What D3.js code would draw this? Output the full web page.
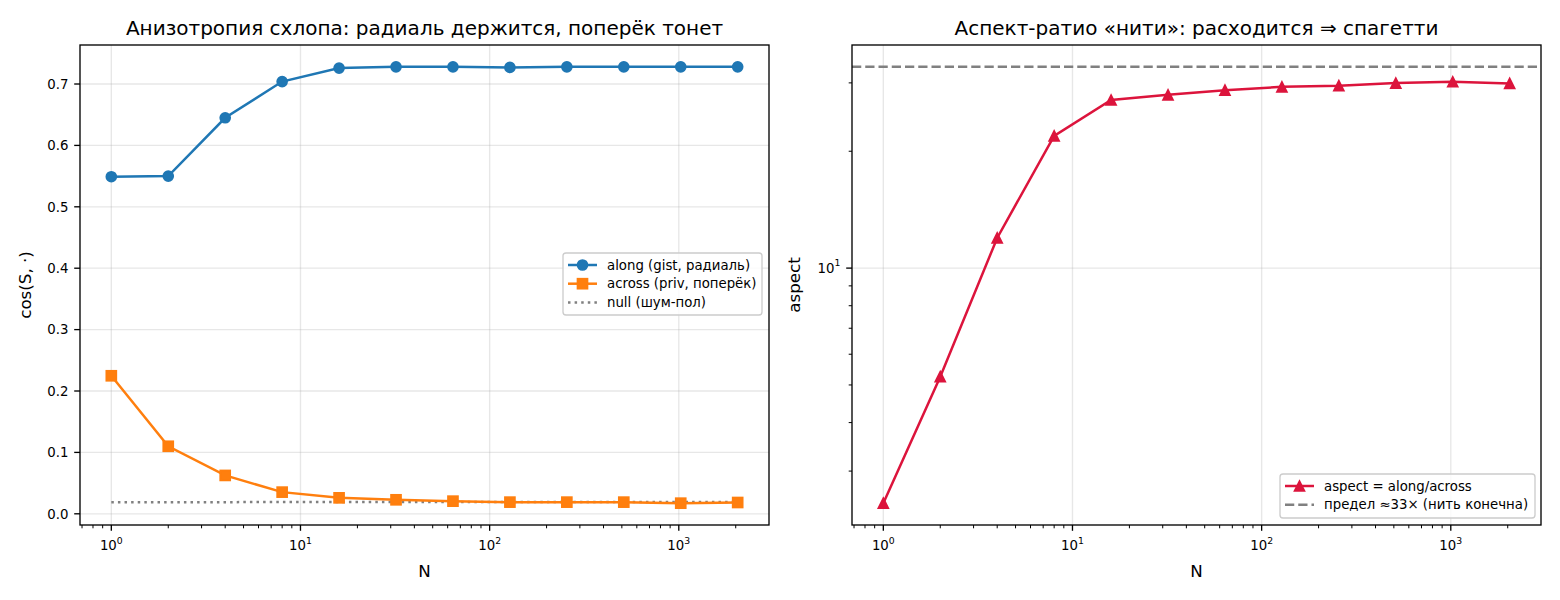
<!DOCTYPE html>
<html>
<head>
<meta charset="utf-8">
<script src="https://cdn.jsdelivr.net/npm/d3@7"></script>
<style>
  body { margin: 0; background: #fff; }
  svg { font-family: "DejaVu Sans", sans-serif; }
</style>
</head>
<body>
<script>
// data
var N = [1, 2, 4, 8, 16, 32, 64, 128, 256, 512, 1024, 2048];
var along = [0.549, 0.550, 0.645, 0.704, 0.726, 0.728, 0.728, 0.727, 0.728, 0.728, 0.728, 0.728];
var across = [0.2248, 0.110, 0.0625, 0.0353, 0.026, 0.0228, 0.0206, 0.019, 0.019, 0.019, 0.0173, 0.0184];
var nullLevel = [0.0190, 0.0190, 0.0190, 0.0191, 0.0191, 0.0191, 0.0192, 0.0192, 0.0192, 0.0192, 0.0193, 0.0193];
var aspect = [2.48, 5.25, 11.96, 21.9, 27.1, 27.95, 28.73, 29.3, 29.5, 29.96, 30.2, 29.9];
var aspectLimit = 33;
var leftTicks = [0.0, 0.1, 0.2, 0.3, 0.4, 0.5, 0.6, 0.7];
var xMajors = [1, 10, 100, 1000];

var W = 1560, H = 600;
var svg = d3.select("body").append("svg")
    .attr("width", W)
    .attr("height", H)

// figure was 120 dpi: 1pt = 1.667px
var GRID = "#b0b0b0", lw = 2.5, SP = 1.33;
var TICK = 13.3, LAB = 16.7, TITLE = 20, LEG = 13.3;
var DOT = "2.5,4.1", DASH = "9.25,4";

// log domain with matplotlib-like 5% margins
function logPad(lo, hi) {
    var a = Math.log10(lo), b = Math.log10(hi), m = (b - a) * 0.05;
    return [Math.pow(10, a - m), Math.pow(10, b + m)];
}
function linPad(lo, hi) {
    var m = (hi - lo) * 0.05;
    return [lo - m, hi + m];
}

function sup(sel, exp) {
    sel.append("tspan").text("10");
    sel.append("tspan").attr("dy", -6.5).attr("font-size", 9.3).text(exp);
}

function minorTicks(domain) {
    var out = [];
    for (var e = -2; e < 5; e++) {
        for (var k = 2; k < 10; k++) {
            var v = k * Math.pow(10, e);
            if (v >= domain[0] && v <= domain[1]) out.push(v);
        }
    }
    return out;
}

function panel(x0, x1, y0, y1) {
    var g = svg.append("g");
    var x = d3.scaleLog().domain(logPad(N[0], N[N.length - 1])).range([x0, x1]);
    return { g: g, x: x, x0: x0, x1: x1, y0: y0, y1: y1 };
}

function drawXAxis(p) {
    var g = p.g, x = p.x;
    xMajors.forEach(function (v) {
        g.append("line").attr("x1", x(v)).attr("x2", x(v)).attr("y1", p.y0).attr("y2", p.y1)
            .attr("stroke", GRID).attr("stroke-opacity", 0.3).attr("stroke-width", SP);
    });
    var ax = g.append("g").attr("transform", "translate(0," + p.y1 + ")");
    xMajors.forEach(function (v, i) {
        ax.append("line").attr("x1", x(v)).attr("x2", x(v)).attr("y1", 0).attr("y2", 5.8)
            .attr("stroke", "#000").attr("stroke-width", SP);
        var t = ax.append("text").attr("x", x(v)).attr("y", 25)
            .attr("text-anchor", "middle").attr("font-size", TICK);
        sup(t, String(i));
    });
    minorTicks(x.domain()).forEach(function (v) {
        ax.append("line").attr("x1", x(v)).attr("x2", x(v)).attr("y1", 0).attr("y2", 3.3)
            .attr("stroke", "#000").attr("stroke-width", 1);
    });
    g.append("text").attr("x", (p.x0 + p.x1) / 2).attr("y", 577)
        .attr("text-anchor", "middle").attr("font-size", LAB).text("N");
}

function frame(p, title) {
    p.g.append("rect").attr("x", p.x0).attr("y", p.y0)
        .attr("width", p.x1 - p.x0).attr("height", p.y1 - p.y0)
        .attr("fill", "none").attr("stroke", "#000").attr("stroke-width", SP);
    p.g.append("text").attr("x", (p.x0 + p.x1) / 2).attr("y", 35)
        .attr("text-anchor", "middle").attr("font-size", TITLE).text(title);
}

function marker(g, type, cx, cy, color) {
    var s = 10, h = s / 2;
    if (type === "o") {
        g.append("circle").attr("cx", cx).attr("cy", cy).attr("r", h)
            .attr("fill", color).attr("stroke", color).attr("stroke-width", 1.67);
    } else if (type === "s") {
        g.append("rect").attr("x", cx - h).attr("y", cy - h)
            .attr("width", s).attr("height", s)
            .attr("fill", color).attr("stroke", color).attr("stroke-width", 1.67);
    } else {
        g.append("path").attr("d", "M" + cx + "," + (cy - h) + "L" + (cx - h) + "," + (cy + h) + "L" + (cx + h) + "," + (cy + h) + "Z")
            .attr("fill", color).attr("stroke", color).attr("stroke-width", 1.67);
    }
}

function series(p, y, vals, color, type, dash) {
    var line = d3.line().x(function (d, i) { return p.x(N[i]); }).y(function (d) { return y(d); });
    p.g.append("path").datum(vals).attr("d", line)
        .attr("fill", "none").attr("stroke", color).attr("stroke-width", lw)
        .attr("stroke-dasharray", dash || null);
    if (type) vals.forEach(function (d, i) { marker(p.g, type, p.x(N[i]), y(d), color); });
}

function legend(g, x, y, w, h, rows) {
    g.append("rect").attr("x", x).attr("y", y).attr("width", w).attr("height", h)
        .attr("rx", 3).attr("fill", "#fff").attr("fill-opacity", 0.8)
        .attr("stroke", "#cccccc").attr("stroke-width", SP);
    rows.forEach(function (r, i) {
        var cy = y + 12 + i * 18.7;
        g.append("line").attr("x1", x + 5).attr("x2", x + 34).attr("y1", cy).attr("y2", cy)
            .attr("stroke", r.color).attr("stroke-width", lw).attr("stroke-dasharray", r.dash || null);
        if (r.type) marker(g, r.type, x + 19.5, cy, r.color);
        g.append("text").attr("x", x + 44).attr("y", cy + 4.7).attr("font-size", LEG).text(r.label);
    });
}

// ---- left panel
var L = panel(80, 769, 45, 525);
var yL = d3.scaleLinear()
    .domain(linPad(d3.min(across.concat(nullLevel)), d3.max(along)))
    .range([L.y1, L.y0]);
leftTicks.forEach(function (v) {
    L.g.append("line").attr("x1", L.x0).attr("x2", L.x1).attr("y1", yL(v)).attr("y2", yL(v))
        .attr("stroke", GRID).attr("stroke-opacity", 0.3).attr("stroke-width", SP);
    L.g.append("line").attr("x1", L.x0 - 5.8).attr("x2", L.x0).attr("y1", yL(v)).attr("y2", yL(v))
        .attr("stroke", "#000").attr("stroke-width", SP);
    L.g.append("text").attr("x", L.x0 - 11.6).attr("y", yL(v) + 4.8).attr("text-anchor", "end")
        .attr("font-size", TICK).text(v.toFixed(1));
});
drawXAxis(L);
L.g.append("text").attr("transform", "translate(31," + ((L.y0 + L.y1) / 2) + ") rotate(-90)")
    .attr("text-anchor", "middle").attr("font-size", LAB).text("cos(S, ·)");
series(L, yL, nullLevel, "gray", null, DOT);
series(L, yL, along, "#1f77b4", "o");
series(L, yL, across, "#ff7f0e", "s");
frame(L, "Анизотропия схлопа: радиаль держится, поперёк тонет");
legend(L.g, 563, 253, 199, 62, [
    { label: "along (gist, радиаль)", color: "#1f77b4", type: "o" },
    { label: "across (priv, поперёк)", color: "#ff7f0e", type: "s" },
    { label: "null (шум-пол)", color: "gray", dash: DOT }
]);

// ---- right panel
var R = panel(852, 1541, 45, 525);
var yR = d3.scaleLog()
    .domain(logPad(d3.min(aspect), Math.max(d3.max(aspect), aspectLimit)))
    .range([R.y1, R.y0]);
R.g.append("line").attr("x1", R.x0).attr("x2", R.x1).attr("y1", yR(10)).attr("y2", yR(10))
    .attr("stroke", GRID).attr("stroke-opacity", 0.3).attr("stroke-width", SP);
R.g.append("line").attr("x1", R.x0 - 5.8).attr("x2", R.x0).attr("y1", yR(10)).attr("y2", yR(10))
    .attr("stroke", "#000").attr("stroke-width", SP);
var t10 = R.g.append("text").attr("x", R.x0 - 11.6).attr("y", yR(10) + 4.8).attr("text-anchor", "end")
    .attr("font-size", TICK);
sup(t10, "1");
minorTicks(yR.domain()).forEach(function (v) {
    R.g.append("line").attr("x1", R.x0 - 3.3).attr("x2", R.x0).attr("y1", yR(v)).attr("y2", yR(v))
        .attr("stroke", "#000").attr("stroke-width", 1);
});
drawXAxis(R);
R.g.append("text").attr("transform", "translate(800," + ((R.y0 + R.y1) / 2) + ") rotate(-90)")
    .attr("text-anchor", "middle").attr("font-size", LAB).text("aspect");
R.g.append("line").attr("x1", R.x0).attr("x2", R.x1).attr("y1", yR(aspectLimit)).attr("y2", yR(aspectLimit))
    .attr("stroke", "gray").attr("stroke-width", lw).attr("stroke-dasharray", DASH);
series(R, yR, aspect, "crimson", "^");
frame(R, "Аспект-ратио «нити»: расходится ⇒ спагетти");
legend(R.g, 1280, 474, 255, 44, [
    { label: "aspect = along/across", color: "crimson", type: "^" },
    { label: "предел ≈33× (нить конечна)", color: "gray", dash: DASH }
]);
</script>
</body>
</html>
